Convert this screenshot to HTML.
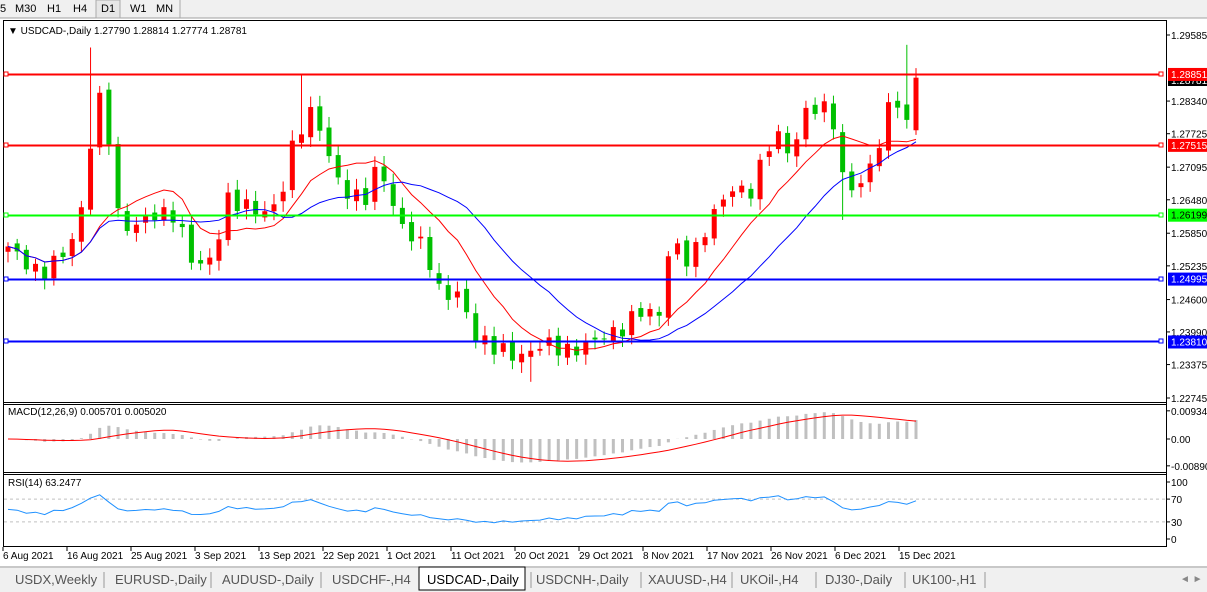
<!DOCTYPE html><html><head><meta charset="utf-8"><style>
body{margin:0;width:1207px;height:592px;overflow:hidden;background:#fff;font-family:"Liberation Sans",sans-serif}
svg{position:absolute;left:0;top:0}
</style></head><body>
<svg id="s" width="1207" height="592" xmlns="http://www.w3.org/2000/svg" font-family="Liberation Sans, sans-serif" font-size="10">
<rect x="0" y="0" width="1207" height="18" fill="#f0f0f0"/>
<line x1="0" y1="18" x2="1207" y2="18" stroke="#a0a0a0"/>
<g font-size="11" fill="#000"><text x="0" y="12">5</text><text x="15" y="12">M30</text><text x="47" y="12">H1</text><text x="73" y="12">H4</text>
<rect x="96" y="0" width="24" height="18" fill="#e6e6e6" stroke="#aaa"/><text x="101" y="12">D1</text><text x="130" y="12">W1</text><text x="156" y="12">MN</text></g>
<line x1="180" y1="0" x2="180" y2="18" stroke="#aaa"/>
<rect x="3.5" y="20.5" width="1163" height="526" fill="#fff" stroke="#000"/>
<line x1="3" y1="402.5" x2="1167" y2="402.5" stroke="#000"/>
<line x1="3" y1="404.5" x2="1167" y2="404.5" stroke="#000"/>
<line x1="3" y1="472.5" x2="1167" y2="472.5" stroke="#000"/>
<line x1="3" y1="474.5" x2="1167" y2="474.5" stroke="#000"/>
<g id="g"></g>
<text x="8" y="34" font-size="10">▼ USDCAD-,Daily  1.27790 1.28814 1.27774 1.28781</text>
<text x="8" y="415" font-size="10">MACD(12,26,9) 0.005701 0.005020</text>
<text x="8" y="486" font-size="10">RSI(14) 63.2477</text>
<rect x="0" y="566" width="1207" height="26" fill="#f0f0f0"/>
<line x1="0" y1="567" x2="1207" y2="567" stroke="#a0a0a0"/>
<rect x="419" y="567" width="106" height="23" fill="#fff" stroke="#000"/>
<g font-size="13" fill="#555"><text x="15" y="584">USDX,Weekly</text><text x="115" y="584">EURUSD-,Daily</text><text x="222" y="584">AUDUSD-,Daily</text><text x="332" y="584">USDCHF-,H4</text><text x="427" y="584" fill="#000">USDCAD-,Daily</text><text x="536" y="584">USDCNH-,Daily</text><text x="648" y="584">XAUUSD-,H4</text><text x="740" y="584">UKOil-,H4</text><text x="825" y="584">DJ30-,Daily</text><text x="912" y="584">UK100-,H1</text></g>
<g stroke="#999"><line x1="104" y1="572" x2="104" y2="588"/><line x1="211" y1="572" x2="211" y2="588"/><line x1="321" y1="572" x2="321" y2="588"/><line x1="531" y1="572" x2="531" y2="588"/><line x1="641" y1="572" x2="641" y2="588"/><line x1="732" y1="572" x2="732" y2="588"/><line x1="816" y1="572" x2="816" y2="588"/><line x1="905" y1="572" x2="905" y2="588"/><line x1="985" y1="572" x2="985" y2="588"/></g>
<text x="1180" y="582" font-size="10" fill="#888">◄ ►</text>
</svg>
<script>
var g=document.getElementById('g'),h='';
function Y(p){return 35+(1.29585-p)*5307;}
var kp=[[8,1.256],[40,1.2505],[70,1.256],[85,1.265],[95,1.284],[105,1.283],[118,1.262],[130,1.259],[150,1.262],[175,1.262],[195,1.252],[215,1.254],[225,1.265],[240,1.264],[270,1.262],[285,1.268],[295,1.277],[315,1.282],[330,1.272],[345,1.266],[365,1.265],[380,1.272],[395,1.262],[410,1.258],[425,1.256],[440,1.247],[460,1.247],[475,1.239],[495,1.237],[520,1.235],[545,1.238],[570,1.236],[600,1.239],[620,1.24],[640,1.244],[660,1.243],[670,1.257],[690,1.253],[710,1.261],[730,1.267],[750,1.266],[775,1.278],[790,1.273],[805,1.281],[820,1.283],[835,1.279],[845,1.266],[860,1.268],[875,1.272],[885,1.281],[900,1.284],[908,1.278],[916,1.28781]];
function interp(x){for(var i=0;i<kp.length-1;i++){if(x<=kp[i+1][0]){var t=(x-kp[i][0])/(kp[i+1][0]-kp[i][0]);return kp[i][1]+t*(kp[i+1][1]-kp[i][1]);}}return kp[kp.length-1][1];}
var N=100,sp=(916-8)/(N-1),C=[],X=[];
for(var i=0;i<N;i++){var x=8+i*sp;X.push(x);C.push(interp(x)+(i==N-1?0:0.0015*Math.sin(i*2.7)));}
C[N-1]=1.28781;
for(var i=0;i<N;i++){var o=i?C[i-1]+0.0006*Math.sin(i*1.3):C[0]-0.001;if(i==N-1)o=1.2779;var c=C[i];
var hi=Math.max(o,c)+0.0008+0.0012*Math.abs(Math.sin(i*3.1)),lo=Math.min(o,c)-0.0008-0.0012*Math.abs(Math.cos(i*2.3));
if(i==9)hi=1.2935;if(i==32)hi=1.2885;if(i==98)hi=1.2940;if(i==91)lo=1.2610;if(i==57)lo=1.2305;
var col=c>=o?'#ff0000':'#00c000';var x=X[i];
h+='<line x1="'+x+'" y1="'+Y(hi)+'" x2="'+x+'" y2="'+Y(lo)+'" stroke="'+col+'"/>';
var t=Y(Math.max(o,c)),b=Y(Math.min(o,c));h+='<rect x="'+(x-2.5)+'" y="'+t+'" width="5" height="'+Math.max(1,b-t)+'" fill="'+col+'"/>';}
function sma(n){var r=[];for(var i=0;i<N;i++){var s=0,k=0;for(var j=Math.max(0,i-n+1);j<=i;j++){s+=C[j];k++;}r.push(s/k);}return r;}
function pl(a,f,col){var p='';for(var i=0;i<N;i++)p+=(i?'L':'M')+X[i].toFixed(1)+' '+f(a[i]).toFixed(1);h+='<path d="'+p+'" fill="none" stroke="'+col+'"/>';}
pl(sma(10),Y,'#ff0000');pl(sma(20),Y,'#0000ff');
var HL=[[1.28851,'#ff0000'],[1.27515,'#ff0000'],[1.26199,'#00ff00'],[1.24995,'#0000ff'],[1.23810,'#0000ff']];
HL.forEach(function(l){var y=Math.round(Y(l[0]))+0.5;h+='<line x1="4" y1="'+y+'" x2="1163" y2="'+y+'" stroke="'+l[1]+'" stroke-width="2"/><rect x="4" y="'+(y-2.5)+'" width="4" height="4" fill="#fff" stroke="'+l[1]+'"/><rect x="1159" y="'+(y-2.5)+'" width="4" height="4" fill="#fff" stroke="'+l[1]+'"/>';});
h+='<line x1="1166.5" y1="20" x2="1166.5" y2="547" stroke="#000"/>';
[[1.29585],[1.2834],[1.27725],[1.27095],[1.2648],[1.2585],[1.25235],[1.246],[1.2399],[1.23375],[1.22745]].forEach(function(p){var y=Y(p[0]);h+='<line x1="1166" y1="'+y+'" x2="1170" y2="'+y+'" stroke="#000"/><text x="1171" y="'+(y+4)+'">'+p[0].toFixed(5)+'</text>';});
h+='<rect x="1168" y="73" width="39" height="13" fill="#000"/><text x="1171" y="84" fill="#fff">1.28781</text>';
HL.forEach(function(l){var y=Y(l[0]);h+='<rect x="1168" y="'+(y-6)+'" width="39" height="13" fill="'+l[1]+'"/><text x="1171" y="'+(y+4)+'" fill="'+(l[1]=='#00ff00'?'#000':'#fff')+'">'+l[0].toFixed(5)+'</text>';});
function ema(a,n){var k=2/(n+1),r=[a[0]];for(var i=1;i<a.length;i++)r.push(a[i]*k+r[i-1]*(1-k));return r;}
var e12=ema(C,12),e26=ema(C,26),m=[];for(var i=0;i<N;i++)m.push(e12[i]-e26[i]);
var sig=[];for(var i=0;i<N;i++){var s=0,k=0;for(var j=Math.max(0,i-8);j<=i;j++){s+=m[j];k++;}sig.push(s/k);}
function MY(v){return 439-v*3015;}
for(var i=0;i<N;i++){var y=MY(m[i]);h+='<line x1="'+X[i]+'" y1="439" x2="'+X[i]+'" y2="'+y+'" stroke="#c0c0c0" stroke-width="3"/>';}
pl(sig,MY,'#ff0000');
[[0.009345,'0.009345'],[0,'0.00'],[-0.0089,'-0.00890']].forEach(function(p){var y=MY(p[0]);h+='<line x1="1166" y1="'+y+'" x2="1170" y2="'+y+'" stroke="#000"/><text x="1171" y="'+(y+4)+'">'+p[1]+'</text>';});
var rsi=[],ag=0.0012,al=0.0011;for(var i=0;i<N;i++){if(i==0){rsi.push(52);continue;}var d=C[i]-C[i-1],gg=Math.max(d,0),ll=Math.max(-d,0);ag=(ag*13+gg)/14;al=(al*13+ll)/14;rsi.push(100-100/(1+ag/al));}
function RY(v){return 539-v*0.57;}
[70,30].forEach(function(v){h+='<line x1="4" y1="'+RY(v)+'" x2="1166" y2="'+RY(v)+'" stroke="#c0c0c0" stroke-dasharray="3,3"/>';});
pl(rsi,RY,'#1e90ff');
[100,70,30,0].forEach(function(v){var y=RY(v);h+='<line x1="1166" y1="'+y+'" x2="1170" y2="'+y+'" stroke="#000"/><text x="1171" y="'+(y+4)+'">'+v+'</text>';});
var D=['6 Aug 2021','16 Aug 2021','25 Aug 2021','3 Sep 2021','13 Sep 2021','22 Sep 2021','1 Oct 2021','11 Oct 2021','20 Oct 2021','29 Oct 2021','8 Nov 2021','17 Nov 2021','26 Nov 2021','6 Dec 2021','15 Dec 2021'];
D.forEach(function(d,i){var x=3+i*64;h+='<line x1="'+x+'" y1="547" x2="'+x+'" y2="551" stroke="#000"/><text x="'+x+'" y="559">'+d+'</text>';});
g.innerHTML=h;
</script>
</body></html>
